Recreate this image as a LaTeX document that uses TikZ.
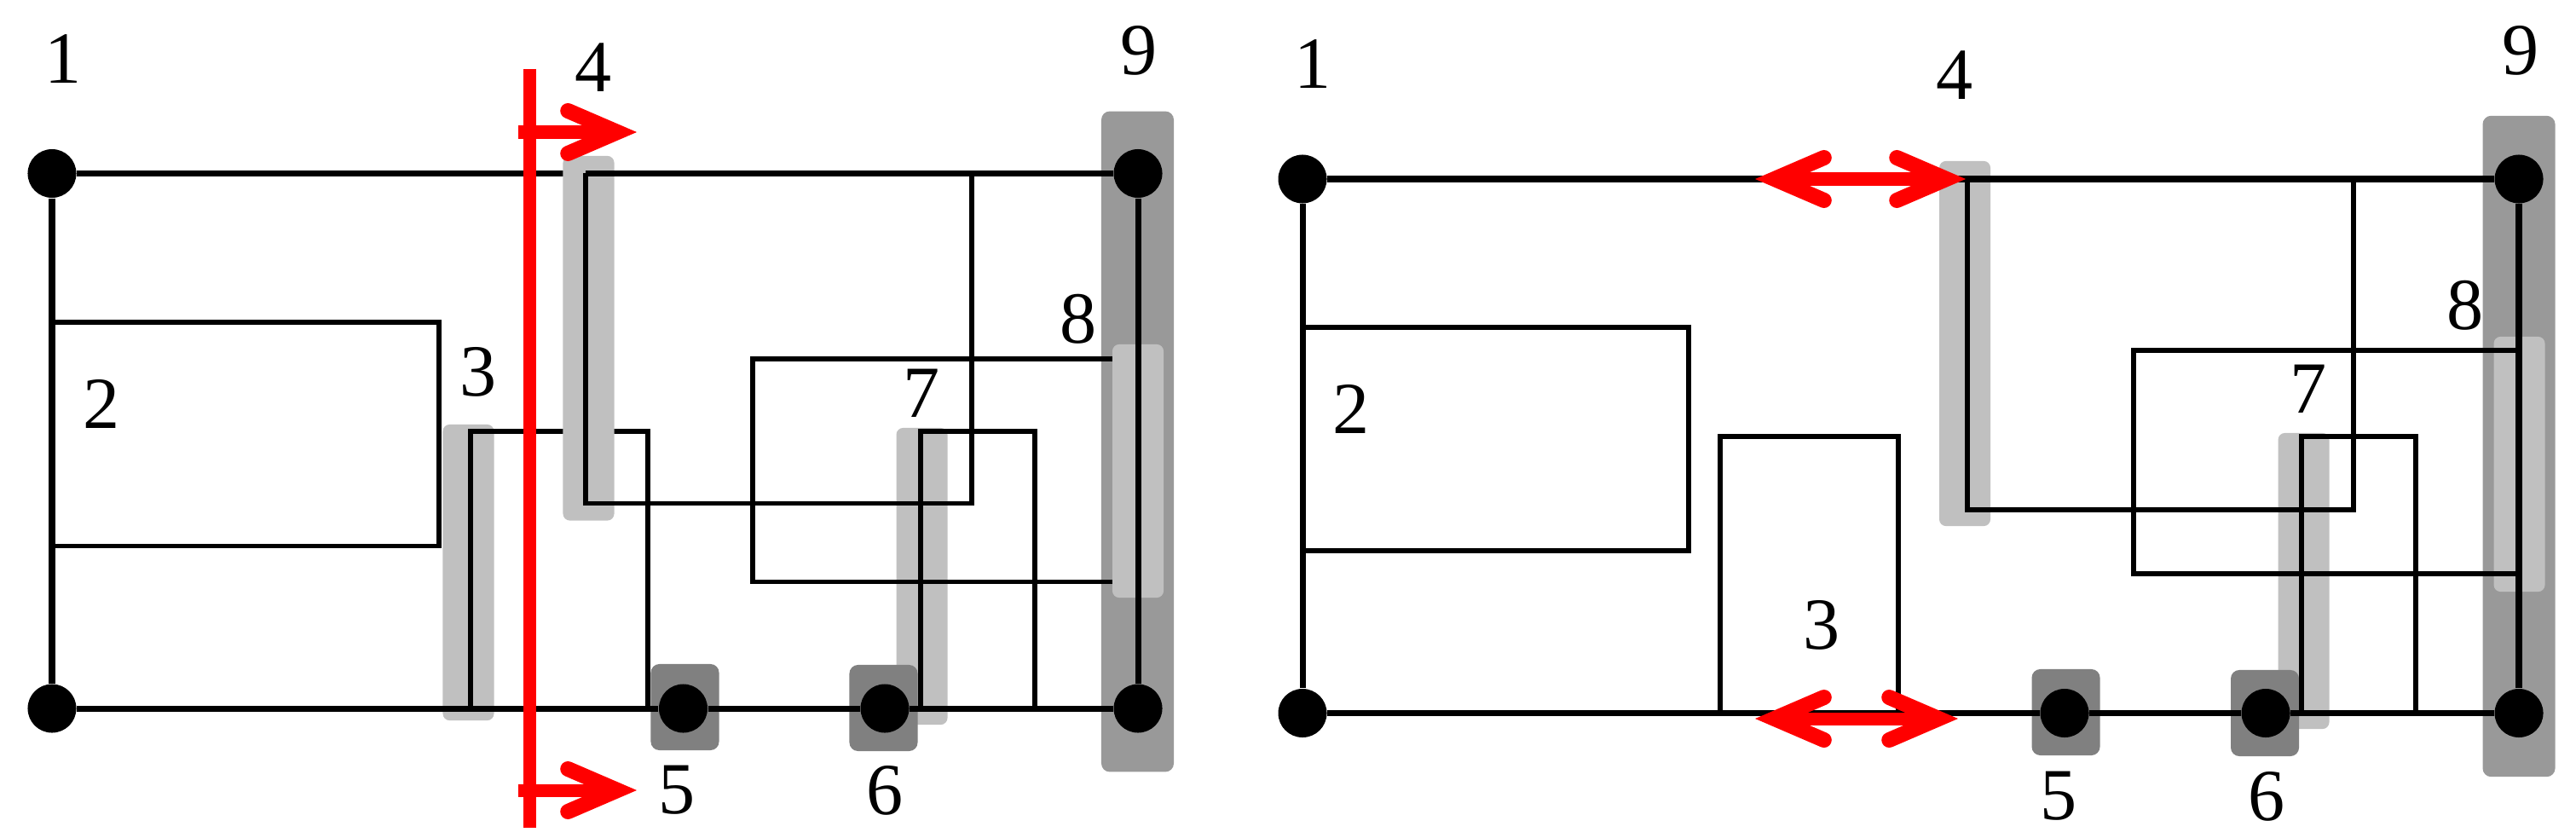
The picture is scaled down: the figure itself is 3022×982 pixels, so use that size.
\documentclass[tikz,border=0pt]{standalone}
\usepackage{fontspec}
\setmainfont{Liberation Serif}
\usetikzlibrary{arrows.meta}
\tikzset{
        dot/.style={circle, fill=black, inner sep=0pt, minimum size=.57cm},
        lightbar/.style={rectangle, fill=lightgrey, rounded corners=.08cm, inner sep=0pt, minimum width=.6cm, minimum height=#1},
        squarebar/.style={rectangle, fill=midgrey, rounded corners=.1cm, inner sep=0pt, minimum width=.8cm, minimum height=1.01cm},
        railbar/.style={rectangle, fill=railgrey, rounded corners=.1cm, inner sep=0pt, minimum width=.85cm, minimum height=#1},
        num/.style={inner sep=0pt, font=\fontsize{24.5}{24.5}\selectfont},
        rail/.style={line width=.07cm},
        wire/.style={line width=.055cm},
        redline/.style={red, line width=.15cm},
        redtip/.tip={Straight Barb[length=.58cm, width=.5cm, line cap=round, line join=miter, line width=.18cm]}
}
\definecolor{lightgrey}{HTML}{C0C0C0}
\definecolor{midgrey}{HTML}{808080}
\definecolor{railgrey}{HTML}{999999}
\begin{document}
\begin{tikzpicture}[x=0.01cm, y=-0.01cm]
        \useasboundingbox (0, 0) rectangle (3022, 982);

        \node[railbar=7.745cm] (bar9L) at (1334.5, 518) {};
        \node[lightbar=3.47cm] (bar3L) at (549.5, 671.5) {};
        \node[lightbar=3.48cm] (bar7L) at (1081.5, 676) {};
        \node[squarebar] (bar5L) at (803.5, 829.5) {};
        \node[squarebar] (bar6L) at (1036.5, 830.5) {};
        \node[dot] (nwL) at (61, 203.5) {};
        \node[dot] (swL) at (61, 831) {};
        \node[dot] (neL) at (1335, 203.5) {};
        \node[dot] (seL) at (1335, 831) {};
        \node[dot] (n5L) at (801.5, 831) {};
        \node[dot] (n6L) at (1038, 831) {};
        \coordinate (a2L) at (61, 378);
        \coordinate (b2L) at (515, 378);
        \coordinate (c2L) at (515, 640.5);
        \coordinate (d2L) at (61, 640.5);
        \coordinate (a3L) at (552, 831);
        \coordinate (b3L) at (552, 506);
        \coordinate (c3L) at (760, 506);
        \coordinate (d3L) at (760, 831);
        \coordinate (a4L) at (687, 203.5);
        \coordinate (b4L) at (687, 590.5);
        \coordinate (c4L) at (1140, 590.5);
        \coordinate (d4L) at (1140, 203.5);
        \coordinate (a7L) at (1080, 831);
        \coordinate (b7L) at (1080, 506);
        \coordinate (c7L) at (1214, 506);
        \coordinate (d7L) at (1214, 831);
        \coordinate (a8L) at (1320, 421);
        \coordinate (b8L) at (883, 421);
        \coordinate (c8L) at (883, 682.5);
        \coordinate (d8L) at (1320, 682.5);
        \draw[rail] (nwL) -- (swL);
        \draw[rail] (nwL) -- (a4L);
        \draw[wire] (a2L) -- (b2L) -- (c2L) -- (d2L);
        \draw[wire] (a3L) -- (b3L) -- (c3L) -- (d3L);
        \node[lightbar=4.275cm] (bar4L) at (690.5, 396.75) {};
        \draw[rail] (a4L) -- (neL);
        \draw[wire] (a4L) -- (b4L) -- (c4L) -- (d4L);
        \draw[wire] (a7L) -- (b7L) -- (c7L) -- (d7L);
        \draw[wire] (a8L) -- (b8L) -- (c8L) -- (d8L);
        \draw[rail] (swL) -- (n5L) -- (n6L) -- (seL);
        \node[lightbar=2.97cm] (bar8L) at (1335, 552.5) {};
        \draw[rail] (neL) -- (seL);
        \coordinate (r1L) at (621, 81);
        \coordinate (r2L) at (621, 971);
        \coordinate (r3L) at (608, 155);
        \coordinate (r4L) at (747, 155);
        \coordinate (r5L) at (608, 927);
        \coordinate (r6L) at (747, 927);
        \draw[redline] (r1L) -- (r2L);
        \draw[redline, -{redtip}] (r3L) -- (r4L);
        \draw[redline, -{redtip}] (r5L) -- (r6L);
        \node[num] (lab1L) at (74, 69) {1};
        \node[num] (lab2L) at (119, 474) {2};
        \node[num] (lab3L) at (561, 436) {3};
        \node[num] (lab4L) at (696, 79) {4};
        \node[num] (lab5L) at (794, 927) {5};
        \node[num] (lab6L) at (1038, 927) {6};
        \node[num] (lab7L) at (1081, 461.5) {7};
        \node[num] (lab8L) at (1265, 374.5) {8};
        \node[num] (lab9L) at (1336, 59.5) {9};

        \node[railbar=7.75cm] (bar9R) at (2955, 523.5) {};
        \node[lightbar=2.99cm] (bar8R) at (2955.5, 544.5) {};
        \node[lightbar=4.28cm] (bar4R) at (2305, 403) {};
        \node[lightbar=3.47cm] (bar7R) at (2702.5, 681.5) {};
        \node[squarebar] (bar5R) at (2423.5, 835.5) {};
        \node[squarebar] (bar6R) at (2657, 836.5) {};
        \node[dot] (nwR) at (1528, 210) {};
        \node[dot] (swR) at (1528, 836.5) {};
        \node[dot] (neR) at (2955, 210) {};
        \node[dot] (seR) at (2955, 836.5) {};
        \node[dot] (n5R) at (2422, 836.5) {};
        \node[dot] (n6R) at (2658, 836.5) {};
        \coordinate (a2R) at (1528, 384);
        \coordinate (b2R) at (1981, 384);
        \coordinate (c2R) at (1981, 646);
        \coordinate (d2R) at (1528, 646);
        \coordinate (a3R) at (2018, 836.5);
        \coordinate (b3R) at (2018, 512);
        \coordinate (c3R) at (2227, 512);
        \coordinate (d3R) at (2227, 836.5);
        \coordinate (a4R) at (2308, 210);
        \coordinate (b4R) at (2308, 598);
        \coordinate (c4R) at (2761, 598);
        \coordinate (d4R) at (2761, 210);
        \coordinate (a7R) at (2700, 836.5);
        \coordinate (b7R) at (2700, 512);
        \coordinate (c7R) at (2834, 512);
        \coordinate (d7R) at (2834, 836.5);
        \coordinate (a8R) at (2955, 411);
        \coordinate (b8R) at (2503, 411);
        \coordinate (c8R) at (2503, 673);
        \coordinate (d8R) at (2955, 673);
        \draw[rail] (nwR) -- (swR);
        \draw[rail] (nwR) -- (neR);
        \draw[wire] (a2R) -- (b2R) -- (c2R) -- (d2R);
        \draw[wire] (a3R) -- (b3R) -- (c3R) -- (d3R);
        \draw[wire] (a4R) -- (b4R) -- (c4R) -- (d4R);
        \draw[wire] (a7R) -- (b7R) -- (c7R) -- (d7R);
        \draw[wire] (a8R) -- (b8R) -- (c8R) -- (d8R);
        \draw[rail] (swR) -- (n5R) -- (n6R) -- (seR);
        \draw[rail, line width=.08cm] (neR) -- (seR);
        \coordinate (r1R) at (2059, 210);
        \coordinate (r2R) at (2306, 210);
        \coordinate (r3R) at (2059, 843);
        \coordinate (r4R) at (2297, 843);
        \draw[redline, {redtip}-{redtip}] (r1R) -- (r2R);
        \draw[redline, {redtip}-{redtip}] (r3R) -- (r4R);
        \node[num] (lab1R) at (1540, 75) {1};
        \node[num] (lab2R) at (1585, 480) {2};
        \node[num] (lab3R) at (2137, 733) {3};
        \node[num] (lab4R) at (2293, 88) {4};
        \node[num] (lab5R) at (2415, 934) {5};
        \node[num] (lab6R) at (2659, 934) {6};
        \node[num] (lab7R) at (2708, 456) {7};
        \node[num] (lab8R) at (2892, 358) {8};
        \node[num] (lab9R) at (2957, 59.5) {9};
\end{tikzpicture}
\end{document}
